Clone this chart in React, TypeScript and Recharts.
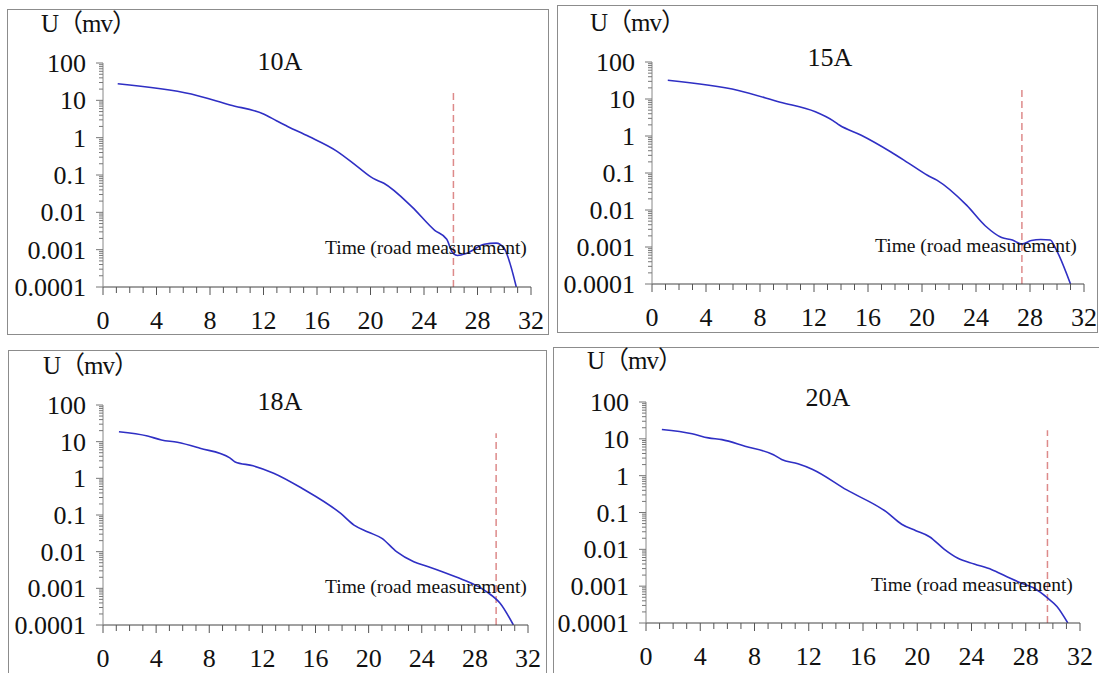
import React from "react";
import { LineChart, Line, XAxis, YAxis, ReferenceLine } from "recharts";

// time (x) and voltage U in mV (y), one pair of arrays per current
const T_10A = [1.1, 6.6, 9.5, 12.0, 13.0, 13.8, 15.4, 17.5, 19.0, 20.2, 21.0, 23.1, 24.8, 25.7, 26.1, 26.5, 27.2, 28.5, 29.4, 30.0, 30.9];
const U_10A = [27.9, 14.7, 7.5, 4.3, 2.8, 2.0, 1.07, 0.43, 0.17, 0.081, 0.06, 0.014, 0.0033, 0.0019, 0.00087, 0.0007, 0.0008, 0.0014, 0.0015, 0.00107, 0.0001];

const T_15A = [1.17, 6.4, 9.5, 12.1, 13.4, 13.9, 15.5, 17.7, 19.0, 20.4, 21.1, 23.3, 24.7, 25.9, 26.7, 27.4, 28.1, 28.8, 29.5, 29.9, 31.0];
const U_15A = [32, 17, 8.2, 4.5, 2.6, 1.95, 1.05, 0.37, 0.185, 0.087, 0.064, 0.0135, 0.0037, 0.0018, 0.00155, 0.0012, 0.0015, 0.0016, 0.00155, 0.00091, 0.0001];

const T_18A = [1.2, 3.35, 4.4, 5.6, 7.3, 9.55, 9.95, 11.3, 12.85, 15.0, 17.9, 18.9, 20.0, 21.0, 22.1, 23.4, 24.5, 25.6, 26.8, 27.9, 28.9, 29.9, 30.9];
const U_18A = [18.7, 14.3, 11.1, 9.6, 6.6, 3.6, 2.8, 2.2, 1.38, 0.53, 0.11, 0.053, 0.034, 0.023, 0.01, 0.0053, 0.0039, 0.0028, 0.0019, 0.0013, 0.0008, 0.00039, 0.0001];

const T_20A = [1.17, 3.4, 4.6, 5.6, 7.3, 9.4, 10.0, 11.2, 12.25, 14.8, 17.7, 18.85, 19.9, 20.9, 22.0, 23.0, 24.2, 25.5, 26.5, 27.7, 28.6, 29.6, 30.3, 31.1];
const U_20A = [18, 13.8, 10.6, 9.5, 6.3, 3.7, 2.75, 2.1, 1.5, 0.41, 0.105, 0.048, 0.032, 0.022, 0.01, 0.0057, 0.004, 0.0028, 0.0019, 0.0012, 0.00089, 0.00048, 0.00028, 0.0001];

const TITLES = ["10A", "15A", "18A", "20A"];
const CUTOFF_T = [26.2, 27.4, 29.6, 29.6];
const CUTOFF_TOP = [16.7, 20, 17, 17];

const DECADES = [0.0001, 0.001, 0.01, 0.1, 1, 10, 100];
const DECADE_LABELS = ["0.0001", "0.001", "0.01", "0.1", "1", "10", "100"];
const X_TICKS = [0, 1, 2, 3, 4, 5, 6, 7, 8, 9, 10, 11, 12, 13, 14, 15, 16, 17, 18, 19, 20, 21, 22, 23, 24, 25, 26, 27, 28, 29, 30, 31, 32];
const X_LABELS = ["0", "4", "8", "12", "16", "20", "24", "28", "32"];

const SERIES = [
  [T_10A, U_10A],
  [T_15A, U_15A],
  [T_18A, U_18A],
  [T_20A, U_20A],
];

// minor log ticks 1..9 per decade
const Y_TICKS: number[] = [];
DECADES.slice(0, -1).forEach((d) => {
  for (let m = 1; m < 10; m++) Y_TICKS.push(Number((d * m).toPrecision(6)));
});
Y_TICKS.push(100);

// page layout: panel box and plot rectangle (x0, x1, yTop, yBottom)
const LAYOUT = [
  { box: [7, 9, 542, 326], plot: [103, 531, 63, 287], title: [280, 62], u: [41, 23], time: [325, 248] },
  { box: [557, 5, 541, 328], plot: [652, 1084, 62, 284], title: [830, 58], u: [590, 22], time: [875, 246] },
  { box: [8, 350, 539, 340], plot: [103, 528, 405, 625], title: [280, 402], u: [43, 365], time: [325, 587] },
  { box: [553, 347, 560, 340], plot: [646, 1080, 402, 623], title: [828, 398], u: [587, 360], time: [871, 585] },
];

const SERIF = "Liberation Serif";

function YTick(props: any) {
  const { x, y, payload } = props;
  const v = payload.value;
  const idx = DECADES.findIndex((d) => Math.abs(Math.log10(d) - Math.log10(v)) < 1e-6);
  const major = idx >= 0;
  return (
    <g>
      <line x1={x - (major ? 7 : 4)} x2={x} y1={y} y2={y} stroke="#777" strokeWidth={1} />
      {major && (
        <text x={x - 17} y={y + 9} textAnchor="end" fontFamily={SERIF} fontSize={26} fill="#111">
          {DECADE_LABELS[idx]}
        </text>
      )}
    </g>
  );
}

function XTick(props: any) {
  const { x, y, payload } = props;
  const v = payload.value;
  const major = v % 4 === 0;
  return (
    <g>
      <line x1={x} x2={x} y1={y} y2={y + (major ? 8 : 6)} stroke="#555" strokeWidth={1} />
      {major && (
        <text x={x} y={y + 42} textAnchor="middle" fontFamily={SERIF} fontSize={26} fill="#111">
          {X_LABELS[v / 4]}
        </text>
      )}
    </g>
  );
}

function Panel({ i }: { i: number }) {
  const L = LAYOUT[i];
  const [t, u] = SERIES[i];
  const data = t.map((tt, k) => ({ t: tt, u: u[k] }));
  const [x0, x1, y0, y1] = L.plot;
  const mTop = 60, yw = 100, mRight = 20, xh = 50;
  const text: React.CSSProperties = { position: "absolute", fontFamily: SERIF, color: "#111", lineHeight: 1, whiteSpace: "nowrap" };
  return (
    <>
      <div
        style={{
          position: "absolute",
          left: L.box[0],
          top: L.box[1],
          width: L.box[2],
          height: L.box[3],
          border: "1.5px solid #8c8c8c",
          boxSizing: "border-box",
        }}
      />
      <div style={{ position: "absolute", left: x0 - yw, top: y0 - mTop }}>
        <LineChart
          width={x1 - x0 + yw + mRight}
          height={y1 - y0 + mTop + xh}
          data={data}
          margin={{ top: mTop, right: mRight, left: 0, bottom: 0 }}
        >
          <XAxis
            dataKey="t"
            type="number"
            domain={[0, 32]}
            ticks={X_TICKS}
            interval={0}
            height={xh}
            tickSize={0}
            tickMargin={0}
            tickLine={false}
            tick={<XTick />}
            axisLine={{ stroke: "#444", strokeWidth: 1 }}
          />
          <YAxis
            type="number"
            scale="log"
            domain={[0.0001, 100]}
            allowDataOverflow
            ticks={Y_TICKS}
            interval={0}
            width={yw}
            tickSize={0}
            tickMargin={0}
            tickLine={false}
            tick={<YTick />}
            axisLine={{ stroke: "#888", strokeWidth: 1 }}
          />
          <ReferenceLine
            segment={[
              { x: CUTOFF_T[i], y: 0.0001 },
              { x: CUTOFF_T[i], y: CUTOFF_TOP[i] },
            ]}
            stroke="#dd8a8a"
            strokeWidth={1.5}
            strokeDasharray="7 4"
          />
          <Line
            dataKey="u"
            type="monotone"
            stroke="#2f2fc4"
            strokeWidth={1.6}
            dot={false}
            isAnimationActive={false}
          />
        </LineChart>
      </div>
      <div style={{ ...text, left: L.u[0], top: L.u[1], transform: "translateY(-50%)", fontSize: 25, letterSpacing: -1, fontFamily: "'Liberation Serif', 'Noto Sans CJK SC'" }}>
        U（mv）
      </div>
      <div style={{ ...text, left: L.title[0], top: L.title[1], transform: "translate(-50%, -50%)", fontSize: 26 }}>
        {TITLES[i]}
      </div>
      <div style={{ ...text, left: L.time[0], top: L.time[1], transform: "translateY(-50%)", fontSize: 19.5 }}>
        Time (road measurement)
      </div>
    </>
  );
}

export default function App() {
  return (
    <div style={{ position: "absolute", left: 0, top: 0, width: 1099, height: 673, background: "#fff", overflow: "hidden" }}>
      {[0, 1, 2, 3].map((i) => (
        <Panel key={i} i={i} />
      ))}
    </div>
  );
}
